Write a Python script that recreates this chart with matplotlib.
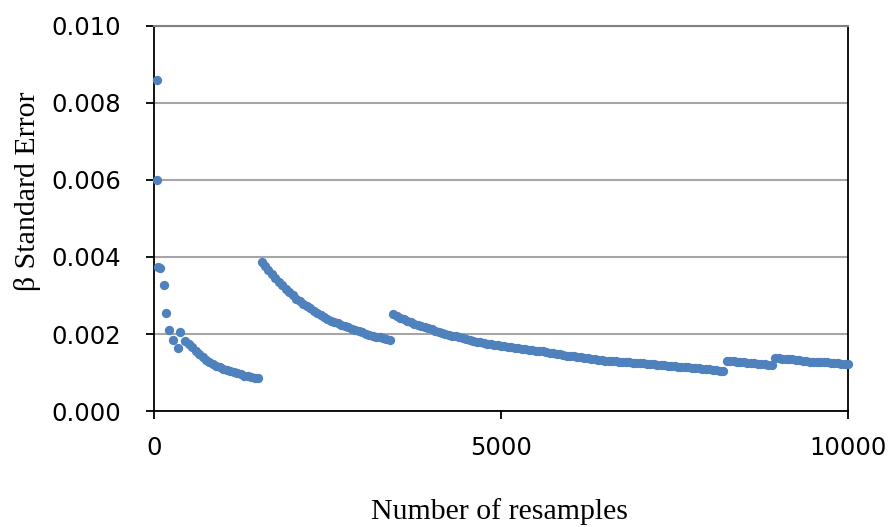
import matplotlib
matplotlib.use("Agg")
from matplotlib import pyplot as plt
from matplotlib.ticker import FormatStrFormatter
import numpy as np

# first few resamples (scattered points near zero)
early_x = [40, 40, 60, 90, 140, 180, 220, 280, 340, 380]
early_y = [0.0086, 0.0060, 0.00374, 0.00372, 0.00326, 0.00254, 0.00210, 0.00184, 0.00164, 0.00206]

# segment 1: 450 .. 1500, every 50 resamples
seg1_x = np.arange(450, 1501, 50)
seg1_y = [0.00183, 0.00175, 0.00166, 0.00157, 0.00148, 0.00139, 0.00132, 0.00126, 0.00122, 0.00117,
          0.00113, 0.00110, 0.00106, 0.00104, 0.00101, 0.00098, 0.00095, 0.00092, 0.00090, 0.00088,
          0.00087, 0.00086]

# segment 2: 1550 .. 3400
seg2_x = np.arange(1550, 3401, 50)
seg2_y = [0.00388, 0.00377, 0.00366, 0.00356, 0.00345, 0.00335, 0.00326, 0.00317, 0.00308, 0.00300,
          0.00292, 0.00285, 0.00279, 0.00273, 0.00267, 0.00261, 0.00255, 0.00249, 0.00244, 0.00239,
          0.00235, 0.00231, 0.00228, 0.00224, 0.00220, 0.00217, 0.00213, 0.00210, 0.00207, 0.00204,
          0.00201, 0.00198, 0.00196, 0.00193, 0.00191, 0.00189, 0.00187, 0.00185]

# segment 3: 3450 .. 8200
seg3_x = np.arange(3450, 8201, 50)
seg3_y = [0.00251, 0.00246, 0.00242, 0.00238, 0.00235, 0.00231, 0.00227, 0.00224, 0.00221, 0.00218,
          0.00215, 0.00212, 0.00209, 0.00206, 0.00203, 0.00200, 0.00198, 0.00196, 0.00194, 0.00192,
          0.00189, 0.00187, 0.00185, 0.00182, 0.00180, 0.00178, 0.00177, 0.00175, 0.00174, 0.00172,
          0.00171, 0.00169, 0.00168, 0.00167, 0.00166, 0.00164, 0.00163, 0.00162, 0.00161, 0.00159,
          0.00158, 0.00157, 0.00156, 0.00155, 0.00153, 0.00151, 0.00150, 0.00148, 0.00147, 0.00146,
          0.00144, 0.00143, 0.00142, 0.00140, 0.00139, 0.00138, 0.00137, 0.00135, 0.00134, 0.00133,
          0.00132, 0.00131, 0.00130, 0.00129, 0.00129, 0.00128, 0.00127, 0.00127, 0.00126, 0.00125,
          0.00125, 0.00124, 0.00124, 0.00123, 0.00122, 0.00121, 0.00120, 0.00119, 0.00119, 0.00118,
          0.00117, 0.00116, 0.00115, 0.00115, 0.00114, 0.00113, 0.00112, 0.00111, 0.00111, 0.00110,
          0.00109, 0.00108, 0.00107, 0.00106, 0.00105, 0.00105]

# segment 4: 8250 .. 8900
seg4_x = np.arange(8250, 8901, 50)
seg4_y = [0.00131, 0.00130, 0.00129, 0.00127, 0.00126, 0.00126, 0.00125, 0.00124, 0.00124, 0.00123,
          0.00122, 0.00121, 0.00120, 0.00120]

# segment 5: 8950 .. 10000
seg5_x = np.arange(8950, 10001, 50)
seg5_y = [0.00137, 0.00137, 0.00136, 0.00135, 0.00135, 0.00134, 0.00133, 0.00132, 0.00130, 0.00129,
          0.00128, 0.00128, 0.00127, 0.00127, 0.00126, 0.00126, 0.00125, 0.00124, 0.00124, 0.00123,
          0.00122, 0.00122]

x = np.concatenate([early_x, seg1_x, seg2_x, seg3_x, seg4_x, seg5_x])
y = np.concatenate([early_y, seg1_y, seg2_y, seg3_y, seg4_y, seg5_y])

fig = plt.figure(figsize=(8.89, 5.27), dpi=100)
ax = fig.add_axes([0.1732, 0.2201, 0.7807, 0.7306])

ax.scatter(x, y, s=45, color='#4F81BD', linewidths=0, zorder=3, clip_on=False)

ax.set_xlim(0, 10000)
ax.set_ylim(0, 0.010)
ax.set_xticks([0, 5000, 10000])
ax.set_yticks(np.arange(0, 0.0101, 0.002))
ax.yaxis.set_major_formatter(FormatStrFormatter('%.3f'))

# grid
ax.yaxis.grid(True, color='#A6A6A6', linewidth=1.5)
ax.set_axisbelow(True)

for side in ['left', 'bottom', 'right']:
    ax.spines[side].set_color('black')
    ax.spines[side].set_linewidth(1.3)
ax.spines['top'].set_color('#808080')
ax.spines['top'].set_linewidth(1.5)

ax.tick_params(axis='both', direction='out', length=6, width=1.3, labelsize=17.5, pad=12)
ax.tick_params(axis='y', pad=18)
for lab in ax.get_xticklabels() + ax.get_yticklabels():
    lab.set_family('DejaVu Sans')

# axis titles placed by their centres
fig.text(499 / 889, 1 - 512 / 527, 'Number of resamples', family='Liberation Serif',
         fontsize=21.5, ha='center', va='center')
fig.text(28 / 889, 1 - 191 / 527, 'β Standard Error', family='Liberation Serif',
         fontsize=21.5, ha='center', va='center', rotation=90)

fig.savefig('out.png', dpi=100)
